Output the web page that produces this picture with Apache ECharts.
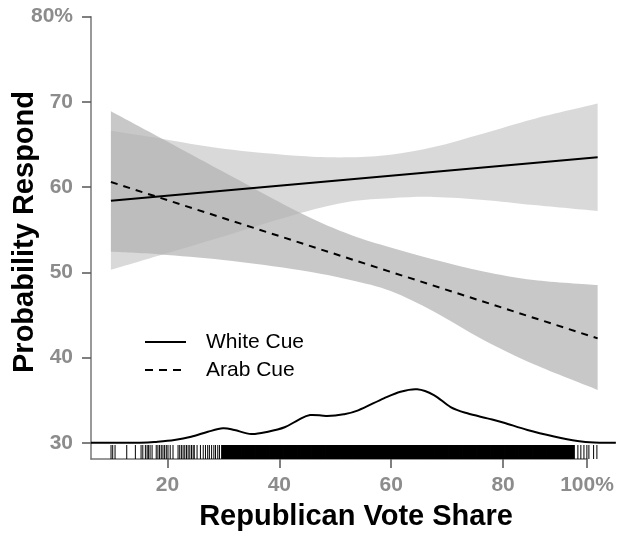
<!DOCTYPE html>
<html>
<head>
<meta charset="utf-8">
<script src="https://cdn.jsdelivr.net/npm/echarts@6/dist/echarts.min.js"></script>
<style>
  html, body { margin: 0; padding: 0; background: #fff; }
  #chart { width: 618px; height: 535px; }
</style>
</head>
<body>
<div id="chart"></div>
<script>
// ---- Data ----
const X_TICKS = [20, 40, 60, 80, 95];
const X_TICK_LABELS = ['20', '40', '60', '80', '100%'];
const Y_TICKS = [30, 40, 50, 60, 70, 80];
const Y_TICK_LABELS = ['30', '40', '50', '60', '70', '80%'];

const seriesNames = ['White Cue', 'Arab Cue'];

// fitted lines (endpoints of linear fits)
const lineX = [9.9, 96.9];
const whiteFit = [58.4, 63.5];
const arabFit = [60.6, 42.25];

// confidence bands
const bandX      = [9.9, 18.7, 30, 43.8, 52.7, 59.9, 67.6, 76.5, 85.5, 96.9];
const whiteUpper = [66.6, 65.7, 64.5, 63.65, 63.5, 63.8, 64.7, 66.3, 68.0, 69.8];
const whiteLower = [50.3, 52.0, 54.2, 56.95, 58.3, 58.7, 58.85, 58.5, 57.9, 57.2];
const arabUpper  = [68.9, 65.8, 61.8, 56.95, 54.4, 52.9, 51.5, 50.1, 49.1, 48.5];
const arabLower  = [52.4, 52.1, 51.45, 50.25, 49.1, 47.8, 45.4, 42.05, 39.2, 36.2];

// density of vote share (drawn on top of the 30 baseline)
const densX = [6.34, 15.1, 18.28, 21.25, 24.24, 27.23, 29.92, 32.0, 34.99, 37.98, 40.95, 43.35, 45.5, 48.5, 51.5, 54.1, 58.68, 61.67, 64.65, 67.63, 70.62, 73.61, 77.19, 80.16, 84.35, 89.11, 93.3, 96.28, 100.16];
const densY = [30.0, 30.0, 30.12, 30.32, 30.7, 31.29, 31.69, 31.49, 31.02, 31.29, 31.81, 32.66, 33.25, 33.15, 33.35, 33.8, 35.21, 35.99, 36.27, 35.6, 34.19, 33.45, 32.86, 32.35, 31.49, 30.73, 30.2, 30.02, 30.0];

// rug of observed vote shares
const rugSparse = [9.92, 10.22, 10.64, 12.73, 14.27, 15.29, 15.6, 16.06, 16.37, 16.6, 16.9, 17.26, 18.0, 18.3, 18.6, 18.9, 19.2, 19.5, 19.8, 20.1, 20.5, 21.0, 21.9, 22.2, 22.5, 22.8, 23.1, 23.4, 23.7, 24.0, 24.3, 24.6, 24.8, 25.3, 25.9, 26.4, 26.8, 27.2, 27.5, 27.9, 28.3, 28.6, 29.0, 29.3, 29.7, 92.65, 93.37, 93.9, 94.45, 94.98, 95.34, 96.18, 96.77];
const rugDense = [30,30.5,31,31.5,32,32.5,33,33.5,34,34.5,35,35.5,36,36.5,37,37.5,38,38.5,39,39.5,40,40.5,41,41.5,42,42.5,43,43.5,44,44.5,45,45.5,46,46.5,47,47.5,48,48.5,49,49.5,50,50.5,51,51.5,52,52.5,53,53.5,54,54.5,55,55.5,56,56.5,57,57.5,58,58.5,59,59.5,60,60.5,61,61.5,62,62.5,63,63.5,64,64.5,65,65.5,66,66.5,67,67.5,68,68.5,69,69.5,70,70.5,71,71.5,72,72.5,73,73.5,74,74.5,75,75.5,76,76.5,77,77.5,78,78.5,79,79.5,80,80.5,81,81.5,82,82.5,83,83.5,84,84.5,85,85.5,86,86.5,87,87.5,88,88.5,89,89.5,90,90.5,91,91.5,92,92.5];

// axis ranges
const X_MIN = 6.34, X_MAX = 95;
const Y_MIN = 28.09, Y_MAX = 80;

// ---- Build chart ----
const FONT = '"Liberation Sans", Arial, Helvetica, sans-serif';

// Catmull-Rom smoothing of pixel points into cubic bezier path commands
function smoothSegs(pts) {
  let d = '';
  for (let i = 0; i < pts.length - 1; i++) {
    const p0 = pts[Math.max(i - 1, 0)], p1 = pts[i], p2 = pts[i + 1], p3 = pts[Math.min(i + 2, pts.length - 1)];
    const c1 = [p1[0] + (p2[0] - p0[0]) / 6, p1[1] + (p2[1] - p0[1]) / 6];
    const c2 = [p2[0] - (p3[0] - p1[0]) / 6, p2[1] - (p3[1] - p1[1]) / 6];
    d += ' C' + c1[0] + ',' + c1[1] + ' ' + c2[0] + ',' + c2[1] + ' ' + p2[0] + ',' + p2[1];
  }
  return d;
}

function bandSeries(name, xs, lower, upper, color) {
  return {
    type: 'custom', name: name, clip: false, silent: true, z: 1,
    data: xs.map((x, i) => [x, lower[i], upper[i]]),
    encode: { x: 0, y: [1, 2] },
    renderItem: function (params, api) {
      if (params.dataIndex !== 0) return null;
      const up = xs.map((x, i) => api.coord([x, upper[i]]));
      const lo = xs.map((x, i) => api.coord([x, lower[i]])).reverse();
      const d = 'M' + up[0][0] + ',' + up[0][1] + smoothSegs(up) +
                ' L' + lo[0][0] + ',' + lo[0][1] + smoothSegs(lo) + ' Z';
      return { type: 'path', shape: { pathData: d }, style: { fill: color, stroke: null } };
    }
  };
}

function curveSeries(name, xs, ys, style, smooth, z) {
  return {
    type: 'custom', name: name, clip: false, silent: true, z: z,
    data: xs.map((x, i) => [x, ys[i]]),
    encode: { x: 0, y: 1 },
    renderItem: function (params, api) {
      if (params.dataIndex !== 0) return null;
      const pts = xs.map((x, i) => api.coord([x, ys[i]]));
      let d = 'M' + pts[0][0] + ',' + pts[0][1];
      if (smooth) d += smoothSegs(pts);
      else for (let i = 1; i < pts.length; i++) d += ' L' + pts[i][0] + ',' + pts[i][1];
      return { type: 'path', shape: { pathData: d }, style: Object.assign({ fill: null }, style) };
    }
  };
}

function rugSeries(values, width) {
  return {
    type: 'custom', clip: false, silent: true, z: 5,
    data: values.map(v => [v, Y_MIN]),
    encode: { x: 0, y: 1 },
    renderItem: function (params, api) {
      const p = api.coord([api.value(0), api.value(1)]);
      return {
        type: 'line',
        shape: { x1: p[0], y1: p[1], x2: p[0], y2: p[1] - 14 },
        style: { stroke: '#000', lineWidth: width }
      };
    }
  };
}

const chart = echarts.init(document.getElementById('chart'), null, { renderer: 'canvas' });

const option = {
  animation: false,
  backgroundColor: '#fff',
  grid: { left: 91, right: 31, top: 16.7, bottom: 76, containLabel: false },
  xAxis: {
    type: 'value', min: X_MIN, max: X_MAX,
    axisLine: { show: true, lineStyle: { color: '#777', width: 1.5 } },
    axisTick: { show: true, length: 9, customValues: X_TICKS, lineStyle: { color: '#555', width: 1.5 } },
    axisLabel: {
      customValues: X_TICKS,
      formatter: v => X_TICK_LABELS[X_TICKS.indexOf(v)],
      color: '#8c8c8c', fontWeight: 'bold', fontSize: 21, fontFamily: FONT, margin: 16
    },
    splitLine: { show: false }
  },
  yAxis: {
    type: 'value', min: Y_MIN, max: Y_MAX,
    axisLine: { show: true, lineStyle: { color: '#777', width: 1.5 } },
    axisTick: { show: true, length: 9, customValues: Y_TICKS, lineStyle: { color: '#555', width: 1.5 } },
    axisLabel: {
      customValues: Y_TICKS,
      formatter: v => Y_TICK_LABELS[Y_TICKS.indexOf(v)],
      color: '#8c8c8c', fontWeight: 'bold', fontSize: 21, fontFamily: FONT, margin: 18
    },
    splitLine: { show: false }
  },
  series: [
    bandSeries(seriesNames[0] + ' band', bandX, whiteLower, whiteUpper, 'rgba(178,178,178,0.49)'),
    bandSeries(seriesNames[1] + ' band', bandX, arabLower, arabUpper, 'rgba(178,178,178,0.71)'),
    curveSeries(seriesNames[0], lineX, whiteFit, { stroke: '#000', lineWidth: 2 }, false, 3),
    curveSeries(seriesNames[1], lineX, arabFit, { stroke: '#000', lineWidth: 2, lineDash: [7, 6] }, false, 3),
    curveSeries('Density', densX, densY, { stroke: '#000', lineWidth: 2 }, true, 4),
    rugSeries(rugSparse, 1),
    rugSeries(rugDense, 3.6)
  ],
  graphic: [
    {
      type: 'text', x: 25, y: 232, rotation: Math.PI / 2,
      style: { text: 'Probability Respond', fontSize: 29, fontWeight: 'bold', fontFamily: FONT,
               fill: '#000', align: 'center', verticalAlign: 'middle' }
    },
    {
      type: 'text', x: 356, y: 517,
      style: { text: 'Republican Vote Share', fontSize: 29, fontWeight: 'bold', fontFamily: FONT,
               fill: '#000', align: 'center', verticalAlign: 'middle' }
    },
    {
      type: 'line', shape: { x1: 145, y1: 342, x2: 186, y2: 342 },
      style: { stroke: '#000', lineWidth: 2 }
    },
    {
      type: 'line', shape: { x1: 145, y1: 370, x2: 186, y2: 370 },
      style: { stroke: '#000', lineWidth: 2, lineDash: [8, 6] }
    },
    {
      type: 'text', x: 206, y: 342,
      style: { text: seriesNames[0], fontSize: 21, fontFamily: FONT, fill: '#000', align: 'left', verticalAlign: 'middle' }
    },
    {
      type: 'text', x: 206, y: 370,
      style: { text: seriesNames[1], fontSize: 21, fontFamily: FONT, fill: '#000', align: 'left', verticalAlign: 'middle' }
    }
  ]
};

chart.setOption(option);
</script>
</body>
</html>
